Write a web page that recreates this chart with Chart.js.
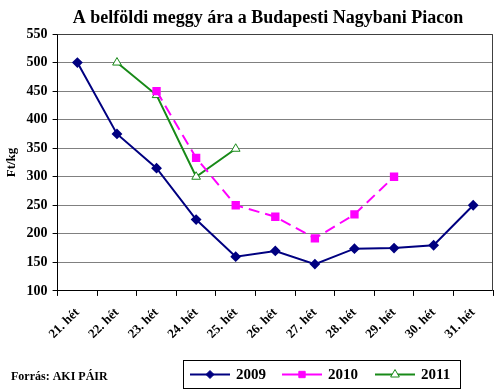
<!DOCTYPE html>
<html><head><meta charset="utf-8">
<script src="https://cdn.jsdelivr.net/npm/chart.js@4/dist/chart.umd.min.js"></script>
<style>html,body{margin:0;padding:0;background:#fff}#wrap{width:500px;height:390px;position:relative}</style>
</head><body><div id="wrap"><canvas id="c" width="500" height="390"></canvas></div>
<script>
const categories = ["21. hét","22. hét","23. hét","24. hét","25. hét","26. hét","27. hét","28. hét","29. hét","30. hét","31. hét"];
const s2009 = [500,375,315,225,160,170,147,174,175,180,250];
const s2010 = [null,null,450,333,250,230,192,234,300,null,null];
const s2011 = [null,500,443,300,349,null,null,null,null,null,null];
const yTicks = [100,150,200,250,300,350,400,450,500,550];
const seriesNames = ["2009","2010","2011"];
const titleText = 'A belföldi meggy ára a Budapesti Nagybani Piacon';
const sourceText = 'Forrás: AKI PÁIR';
const FONT = "'Liberation Serif','Times New Roman',serif";

const extras = {
  id:'extras',
  afterDraw(chart){
    const ctx = chart.ctx, a = chart.chartArea;
    ctx.save();
    // plot border top/right
    ctx.strokeStyle = '#404040'; ctx.lineWidth = 1;
    ctx.beginPath();
    ctx.moveTo(a.left, a.top+0.5); ctx.lineTo(a.right-0.5, a.top+0.5); ctx.lineTo(a.right-0.5, a.bottom);
    ctx.stroke();
    // title
    ctx.fillStyle = '#000';
    ctx.font = "bold 18px " + FONT;
    ctx.textAlign = 'center'; ctx.textBaseline = 'middle';
    ctx.fillText(titleText, 268, 18);
    // source note
    ctx.font = "bold 12px " + FONT;
    ctx.textAlign = 'left';
    ctx.fillText(sourceText, 11, 377);
    // legend box
    const bx = 183, by = 360, bw = 277, bh = 28;
    ctx.strokeStyle = '#000'; ctx.lineWidth = 1;
    ctx.strokeRect(bx+0.5, by+0.5, bw, bh);
    const starts = [190, 282, 375];
    const y = by + bh/2 + 0.5;
    chart.data.datasets.forEach((ds, i) => {
      const x0 = starts[i];
      ctx.strokeStyle = ds.borderColor; ctx.lineWidth = 2;
      ctx.setLineDash([]);
      ctx.beginPath(); ctx.moveTo(x0, y); ctx.lineTo(x0+40, y); ctx.stroke();
      ctx.fillStyle = ds.pointBackgroundColor;
      ctx.strokeStyle = ds.pointBorderColor;
      ctx.lineWidth = 1;
      Chart.helpers.drawPoint(ctx, {pointStyle: ds.pointStyle, radius: ds.pointRadius, rotation: 0, borderWidth: 1}, x0+20, y);
      ctx.fillStyle = '#000';
      ctx.font = "bold 15px " + FONT;
      ctx.textAlign = 'left';
      ctx.fillText(ds.label, x0+46, y+1);
    });
    ctx.restore();
  }
};

new Chart(document.getElementById('c'), {
  type: 'line',
  data: {
    labels: categories,
    datasets: [
      {label: seriesNames[0], data: s2009, borderColor:'#000080', backgroundColor:'#000080', borderWidth:2,
       pointStyle:'rectRot', pointRadius:4, pointBackgroundColor:'#000080', pointBorderColor:'#000080', tension:0},
      {label: seriesNames[1], data: s2010, borderColor:'#FF00FF', backgroundColor:'#FF00FF', borderWidth:2, borderDash:[11,6],
       pointStyle:'rect', pointRadius:4.5, pointBackgroundColor:'#FF00FF', pointBorderColor:'#FF00FF', tension:0},
      {label: seriesNames[2], data: s2011, borderColor:'#188A18', backgroundColor:'#188A18', borderWidth:2,
       pointStyle:'triangle', pointRadius:5, pointBackgroundColor:'#FFFFFF', pointBorderColor:'#188A18', pointBorderWidth:1, tension:0}
    ]
  },
  options: {
    responsive:false, animation:false, spanGaps:false,
    layout:{padding:{left:4, right:7, top:34, bottom:39}},
    plugins:{
      legend:{display:false}, tooltip:{enabled:false}, title:{display:false}
    },
    scales:{
      x:{
        offset:true,
        grid:{offset:true, drawOnChartArea:false, drawTicks:true, tickLength:5, color:'#000'},
        border:{color:'#000', width:1},
        ticks:{color:'#000', font:{family:FONT, size:13, weight:'bold'}, minRotation:45, maxRotation:45, padding:9, autoSkip:false}
      },
      y:{
        min:100, max:550,
        afterBuildTicks(axis){ axis.ticks = yTicks.map(v=>({value:v})); },
        grid:{color:'#808080', tickLength:5, drawTicks:true, tickColor:'#000'},
        border:{color:'#000', width:1},
        ticks:{color:'#000', font:{family:FONT, size:14, weight:'bold'}, padding:5},
        title:{display:true, text:'Ft/kg', color:'#000', font:{family:FONT, size:13, weight:'bold'}, padding:{top:0,bottom:2}}
      }
    }
  },
  plugins:[extras]
});
</script></body></html>
